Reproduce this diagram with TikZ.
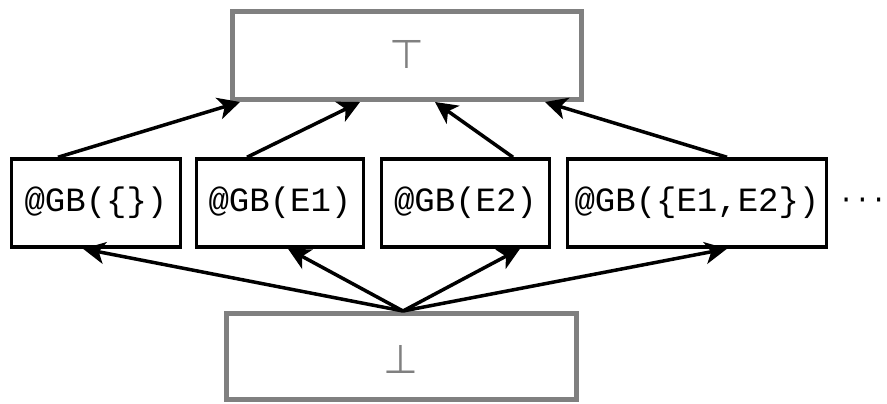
\documentclass[tikz,border=0pt]{standalone}
\usepackage{fontspec}
\setmainfont{DejaVu Sans}
\newfontfamily\boxmono{Liberation Mono}
\usetikzlibrary{arrows.meta}
\definecolor{lightframe}{RGB}{128,128,128}
\tikzset{
  latticebox/.style={draw=black, line width=3.5pt, inner sep=0pt, minimum height=88pt,
     font=\boxmono\fontsize{34}{40}\selectfont},
  boundbox/.style={draw=lightframe, line width=5pt, inner sep=0pt},
  boundlabel/.style={text=lightframe, inner sep=0pt, font=\fontsize{40}{44}\selectfont},
  orderarrow/.style={line width=3.5pt, -{Stealth[length=22pt,width=22pt,inset=6pt]}}
}
\begin{document}
\begin{tikzpicture}[x=1pt,y=-1pt]
\useasboundingbox (0,0) rectangle (887,404);
\node[boundbox, minimum width=349pt, minimum height=88pt] (top) at (406.5,55.5) {};
\node[boundlabel] (toplabel) at (407,54) {⊤};
\node[boundbox, minimum width=350pt, minimum height=86pt] (bot) at (401,356.5) {};
\node[boundlabel] (botlabel) at (401,359) {⊥};
\node[latticebox, minimum width=169pt] (b1) at (96,203) {@GB(\{\})};
\node[latticebox, minimum width=167pt] (b2) at (280,203) {@GB(E1)};
\node[latticebox, minimum width=168pt] (b3) at (465.5,203) {@GB(E2)};
\node[latticebox, minimum width=259pt] (b4) at (697,203) {@GB(\{E1,E2\})};
\node[font=\boxmono\fontsize{27}{32}\selectfont, inner sep=0pt] (dots) at (862.5,203) {···};
% upward arrows
\draw[orderarrow] ([xshift=-38pt]b1.north) -- ([xshift=-166.5pt]top.south);
\draw[orderarrow] ([xshift=-33pt]b2.north) -- ([xshift=-46.5pt]top.south);
\draw[orderarrow] ([xshift=47.5pt]b3.north) -- ([xshift=28.5pt]top.south);
\draw[orderarrow] ([xshift=30pt]b4.north) -- ([xshift=138.5pt]top.south);
% from bottom
\coordinate (apex) at ([xshift=2pt]bot.north);
\draw[orderarrow] (apex) -- ([xshift=-13pt]b1.south);
\draw[orderarrow] (apex) -- ([xshift=8pt]b2.south);
\draw[orderarrow] (apex) -- ([xshift=54.5pt]b3.south);
\draw[orderarrow] (apex) -- ([xshift=30pt]b4.south);
\end{tikzpicture}
\end{document}
